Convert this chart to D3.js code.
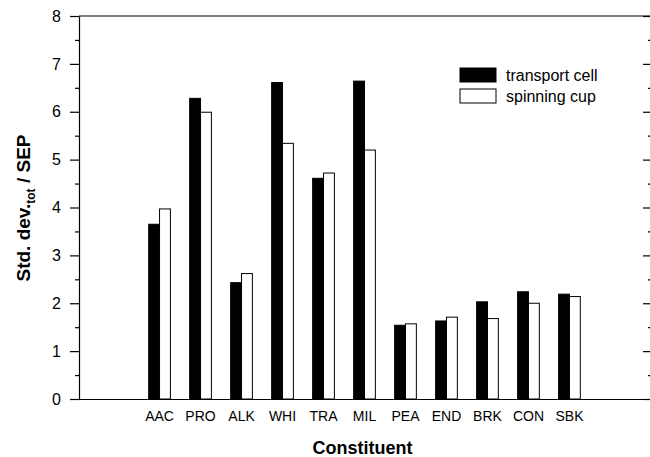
<!DOCTYPE html>
<html>
<head>
<meta charset="utf-8">
<script src="https://cdn.jsdelivr.net/npm/d3@7"></script>
<style>
  body { margin: 0; background: #fff; }
  svg { display: block; font-family: Arial, "Liberation Sans", Helvetica, sans-serif; }
</style>
</head>
<body>
<svg id="chart" width="650" height="457"></svg>
<script>
// ************************************
// Data
// ************************************
const categories = ["AAC", "PRO", "ALK", "WHI", "TRA", "MIL", "PEA", "END", "BRK", "CON", "SBK"];
const seriesNames = ["transport cell", "spinning cup"];
const transportCell = [3.65, 6.28, 2.43, 6.61, 4.61, 6.64, 1.54, 1.63, 2.03, 2.24, 2.19];
const spinningCup   = [3.97, 5.99, 2.62, 5.34, 4.72, 5.20, 1.57, 1.71, 1.68, 2.00, 2.14];
const yMajorTicks = [0, 1, 2, 3, 4, 5, 6, 7, 8];
const yMinorTicks = [0.5, 1.5, 2.5, 3.5, 4.5, 5.5, 6.5, 7.5];

const rows = categories.map((c, i) => ({ cat: c, values: [transportCell[i], spinningCup[i]] }));

// ************************************
// Layout
// ************************************
const svg = d3.select("#chart");
const plotLeft = 79, plotRight = 651, plotTop = 16, plotBottom = 399;

const y = d3.scaleLinear().domain([0, 8]).range([plotBottom, plotTop]);
const x = d3.scaleBand().domain(categories).range([plotLeft, 650])
    .paddingInner(0.47).paddingOuter(1.7);
const xs = d3.scaleBand().domain(seriesNames).range([0, x.bandwidth()]);
const fills = ["#000", "#fff"];

// Left axis, major + minor ticks
svg.append("g")
    .attr("transform", `translate(${plotLeft},0)`)
    .call(d3.axisLeft(y).tickValues(yMajorTicks).tickSize(9).tickSizeOuter(0).tickPadding(9))
    .call(g => g.selectAll("text").attr("font-size", 16).attr("font-family", "Arial, 'Liberation Sans', sans-serif").attr("fill", "#000"));
svg.append("g")
    .attr("transform", `translate(${plotLeft},0)`)
    .call(d3.axisLeft(y).tickValues(yMinorTicks).tickSize(4).tickSizeOuter(0).tickFormat(""))
    .call(g => g.select(".domain").remove());

// Right axis, ticks pointing inward
svg.append("g")
    .attr("transform", `translate(${plotRight},0)`)
    .call(d3.axisLeft(y).tickValues(yMajorTicks).tickSize(8).tickSizeOuter(0).tickFormat(""));
svg.append("g")
    .attr("transform", `translate(${plotRight},0)`)
    .call(d3.axisLeft(y).tickValues(yMinorTicks).tickSize(3).tickSizeOuter(0).tickFormat(""))
    .call(g => g.select(".domain").remove());

// Top frame line
svg.append("line")
    .attr("x1", plotLeft).attr("x2", plotRight)
    .attr("y1", y(8)).attr("y2", y(8))
    .attr("stroke", "#000").attr("stroke-width", 1.2);

// Bottom axis with category labels
svg.append("g")
    .attr("transform", `translate(0,${plotBottom})`)
    .call(d3.axisBottom(x).tickSize(0).tickSizeOuter(0).tickPadding(12))
    .call(g => g.select(".domain").attr("d", `M${plotLeft},0.5H${plotRight}`))
    .call(g => g.selectAll("text").attr("font-size", 14).attr("font-family", "Arial, 'Liberation Sans', sans-serif").attr("fill", "#000"));

svg.selectAll(".domain, .tick line").attr("stroke", "#000").attr("stroke-width", 1.2);

// ************************************
// Bars
// ************************************
const groups = svg.append("g").selectAll("g")
    .data(rows)
    .join("g")
    .attr("transform", d => `translate(${x(d.cat)},0)`);

groups.selectAll("rect")
    .data(d => d.values.map((v, i) => ({ key: seriesNames[i], value: v, i })))
    .join("rect")
    .attr("x", d => xs(d.key))
    .attr("y", d => y(d.value))
    .attr("width", xs.bandwidth())
    .attr("height", d => y(0) - y(d.value))
    .attr("fill", d => fills[d.i])
    .attr("stroke", "#000")
    .attr("stroke-width", 1);

// ************************************
// Legend
// ************************************
const legend = svg.append("g").attr("transform", "translate(460,68)");
seriesNames.forEach((name, i) => {
    legend.append("rect")
        .attr("x", 0).attr("y", i * 21)
        .attr("width", 36).attr("height", 14)
        .attr("fill", fills[i]).attr("stroke", "#000").attr("stroke-width", 1);
    legend.append("text")
        .attr("x", 46).attr("y", i * 21 + 13)
        .attr("font-size", 16)
        .text(name);
});

// ************************************
// Axis titles
// ************************************
svg.append("text")
    .attr("x", (plotLeft + 650) / 2 - 2).attr("y", 454)
    .attr("text-anchor", "middle")
    .attr("font-size", 18).attr("font-weight", "bold")
    .text("Constituent");

const yTitle = svg.append("text")
    .attr("transform", "translate(30,208) rotate(-90)")
    .attr("text-anchor", "middle")
    .attr("font-size", 19).attr("font-weight", "bold");
yTitle.append("tspan").text("Std. dev.");
yTitle.append("tspan").attr("font-size", 12).attr("dy", 5).text("tot");
yTitle.append("tspan").attr("dy", -5).text(" / SEP");
</script>
</body>
</html>
